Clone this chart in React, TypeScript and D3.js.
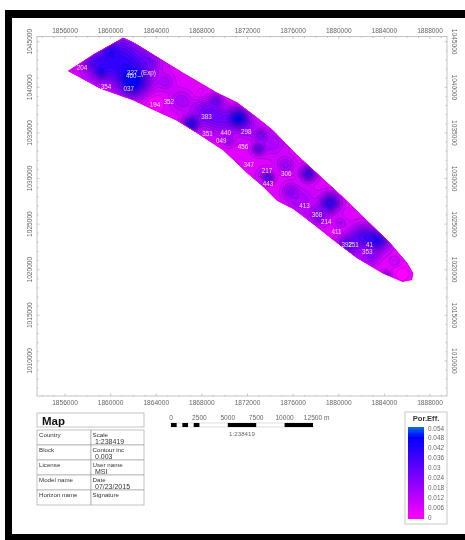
import React, { useEffect } from "react";
import * as d3 from "d3";

const xTicks = [1856000, 1860000, 1864000, 1868000, 1872000, 1876000, 1880000, 1884000, 1888000];
const yTicks = [1045000, 1040000, 1035000, 1030000, 1025000, 1020000, 1015000, 1010000];
const legendTicks = [0.054, 0.048, 0.042, 0.036, 0.03, 0.024, 0.018, 0.012, 0.006, 0];
const scaleBarMetres = [0, 2500, 5000, 7500, 10000, 12500];
const scaleBarBlack: [number, number][] = [[0, 500], [1000, 1500], [2000, 2500], [5000, 7500], [10000, 12500]];

// Reservoir outline in map coordinates
const outline: [number, number][] = [
  [1856300, 1041800], [1858600, 1043650], [1861100, 1045400], [1862000, 1044900], [1866300, 1041600],
  [1869300, 1039400], [1871100, 1038300], [1873100, 1036400], [1874200, 1035300], [1876300, 1032600],
  [1878400, 1030200], [1880400, 1027900], [1882700, 1025100], [1884500, 1022900], [1886000, 1020700],
  [1886500, 1019600], [1886400, 1018900], [1885600, 1018700], [1883900, 1019600], [1881600, 1021300],
  [1879500, 1023300], [1877700, 1025100], [1876000, 1026700], [1874600, 1027600], [1873400, 1029100],
  [1872000, 1030600], [1869900, 1033100], [1867600, 1035000], [1865800, 1036400], [1863500, 1037700],
  [1862000, 1038600], [1859100, 1039900],
];

const highs: [number, number, number, number][] = [
  [1861900, 1040500, 850, 0.03], [1860800, 1043500, 1500, 0.024], [1859100, 1042400, 1100, 0.016],
  [1862200, 1041700, 1300, 0.014], [1867000, 1036000, 450, 0.032], [1868300, 1037300, 900, 0.018],
  [1871200, 1036700, 550, 0.036], [1869800, 1036400, 900, 0.016], [1872900, 1033300, 350, 0.02],
  [1874100, 1034000, 800, 0.01], [1877300, 1030600, 450, 0.03], [1879200, 1027400, 550, 0.034],
  [1878200, 1026000, 550, 0.016], [1876600, 1027600, 800, 0.01], [1880700, 1022700, 600, 0.024],
  [1883400, 1023300, 650, 0.032], [1882000, 1023700, 700, 0.024], [1884100, 1019400, 300, 0.016],
  [1873800, 1030100, 300, 0.018], [1881900, 1020800, 700, 0.01], [1872000, 1035500, 700, 0.01],
  [1859900, 1044100, 450, 0.008], [1859100, 1041700, 350, 0.012], [1858400, 1042800, 450, 0.008],
  [1863500, 1043000, 550, 0.008], [1864800, 1040600, 450, 0.008], [1866100, 1038600, 600, 0.01],
  [1869200, 1038600, 350, 0.014], [1870300, 1034200, 350, 0.01], [1873100, 1034800, 350, 0.014],
  [1875300, 1031500, 500, 0.012], [1873500, 1030400, 450, 0.01], [1875700, 1028700, 450, 0.012],
  [1880100, 1025200, 350, 0.008], [1882900, 1021600, 450, 0.01], [1884900, 1020900, 350, 0.006],
  [1863700, 1038400, 700, -0.006], [1885500, 1019600, 800, -0.006], [1867900, 1039300, 500, -0.004],
];
const baseValue = 0.0075;

const wellNames = ["204", "327_(Exp)", "460", "354", "037", "194", "352", "383", "351", "440", "298", "049", "456", "347", "217", "306", "443", "413", "368", "214", "411", "392", "251", "41", "353"];
const wellX = [1857500, 1862700, 1861800, 1859600, 1861600, 1863900, 1865100, 1868400, 1868500, 1870100, 1871900, 1869700, 1871600, 1872100, 1873700, 1875400, 1873800, 1877000, 1878100, 1878900, 1879800, 1880700, 1881300, 1882700, 1882500];
const wellY = [1042200, 1041600, 1041300, 1040100, 1039900, 1038100, 1038400, 1036800, 1034900, 1035000, 1035100, 1034200, 1033500, 1031500, 1030900, 1030600, 1029400, 1027000, 1026000, 1025300, 1024200, 1022800, 1022800, 1022800, 1022000];

const tableLeft = ["Country", "Block", "License", "Model name", "Horizon name"];
const tableRight = ["Scale", "Contour inc", "User name", "Date", "Signature"];
const tableValues = ["1:238419", "0.003", "MSI", "07/23/2015", ""];

const F = "'Liberation Sans', Arial, sans-serif";
const GREY = "#666";

const x = d3.scaleLinear().domain([1853545, 1889490]).range([37, 447]);
const y = d3.scaleLinear().domain([1045570, 1006150]).range([36.5, 396]);
const color = d3.scaleLinear<string>().domain([0, 0.048, 0.054]).range(["#ff00ff", "#0000ff", "#0070e8"]);
const legendY = d3.scaleLinear().domain([0, 0.054]).range([517, 428]);
const barX = d3.scaleLinear().domain([0, 12500]).range([171, 313]);

const W = 410;
const H = 360;
const values = new Array(W * H);
for (let j = 0; j < H; j++) {
  for (let i = 0; i < W; i++) {
    const gx = x.invert(37 + i);
    const gy = y.invert(36.5 + j);
    let v = baseValue;
    for (const [hx, hy, r, val] of highs) {
      v += val * Math.exp(-((gx - hx) ** 2 + ((gy - hy) * 0.83) ** 2) / (2 * r * r));
    }
    values[j * W + i] = Math.max(0, Math.min(v, 0.05));
  }
}
const thresholds = d3.range(0, 0.054, 0.003);
const bands = d3.contours().size([W, H]).thresholds(thresholds)(values);
const bandPath = d3.geoPath();
const outlinePath = d3.line().curve(d3.curveLinearClosed)(outline.map(([a, b]) => [x(a), y(b)]))!;

export default function App() {
  useEffect(() => {
    document.body.style.margin = "0";
    document.body.style.background = "#fff";
  }, []);
  return (
    <svg width={465} height={540} viewBox="0 0 465 540" style={{ display: "block" }} fontFamily={F}>
      <defs>
        <filter id="soft" x="0" y="0" width="100%" height="100%" filterUnits="userSpaceOnUse" primitiveUnits="userSpaceOnUse">
          <feGaussianBlur stdDeviation="0.45" />
        </filter>
        <clipPath id="body"><path d={outlinePath} /></clipPath>
        <linearGradient id="lg" x1="0" y1="1" x2="0" y2="0">
          {[0, 0.048, 0.054].map((v) => (
            <stop key={v} offset={v / 0.054} stopColor={color(v)} />
          ))}
        </linearGradient>
      </defs>
      <rect x={0} y={0} width={465} height={540} fill="#fff" />
      <path d="M5 10H465V18H12V534H465V540H5Z" fill="#000" />
      <g filter="url(#soft)">
        {/* frame */}
        <rect x={37} y={36.5} width={410} height={359.5} fill="none" stroke="#aaa" strokeWidth={0.7} />
        {d3.range(1854000, 1889001, 1000).map((t) => (
          <g key={t} stroke="#999" strokeWidth={0.5}>
            <line x1={x(t)} x2={x(t)} y1={36.5} y2={t % 4000 === 0 ? 39 : 38} />
            <line x1={x(t)} x2={x(t)} y1={396} y2={t % 4000 === 0 ? 393.5 : 395} />
          </g>
        ))}
        {d3.range(1007000, 1045001, 1000).map((t) => (
          <g key={t} stroke="#999" strokeWidth={0.5}>
            <line y1={y(t)} y2={y(t)} x1={37} x2={t % 5000 === 0 ? 39.5 : 38.5} />
            <line y1={y(t)} y2={y(t)} x1={447} x2={t % 5000 === 0 ? 444.5 : 445.5} />
          </g>
        ))}
        {xTicks.map((t) => (
          <g key={t} fontSize={6.6} fill={GREY} textAnchor="middle">
            <text x={x(t)} y={33}>{t}</text>
            <text x={x(t)} y={405}>{t}</text>
          </g>
        ))}
        {yTicks.map((t) => (
          <g key={t} fontSize={6.6} fill={GREY} textAnchor="middle">
            <text transform={`translate(31.5 ${y(t)}) rotate(-90)`}>{t}</text>
            <text transform={`translate(451.5 ${y(t)}) rotate(90)`}>{t}</text>
          </g>
        ))}

        {/* map */}
        <g clipPath="url(#body)">
          <g transform="translate(37 36.5)">
            <rect width={W} height={H} fill={color(0.003)} />
            {bands.map((b, i) => (
              <path key={i} d={bandPath(b) ?? ""} fill={color(b.value)} stroke="#20004e" strokeOpacity={0.6} strokeWidth={0.4} />
            ))}
          </g>
        </g>
        <path d={outlinePath} fill="none" stroke="#e000f0" strokeWidth={0.8} />
        {wellNames.map((n, i) => (
          <text key={n + i} x={x(wellX[i])} y={y(wellY[i])} fontSize={6.3} fill="#fff" fillOpacity={0.85} textAnchor="middle" dominantBaseline="central">{n}</text>
        ))}

        {/* title block */}
        <rect x={37} y={413} width={107} height={14} fill="#fff" stroke="#999" strokeWidth={0.6} />
        <text x={42} y={425} fontSize={11.5} fontWeight="bold" fill="#111">Map</text>
        {tableLeft.map((t, i) => {
          const top = 430 + i * 15;
          return (
            <g key={t}>
              <rect x={37} y={top} width={54} height={15} fill="#fff" stroke="#999" strokeWidth={0.6} />
              <rect x={91} y={top} width={53} height={15} fill="#fff" stroke="#999" strokeWidth={0.6} />
              <text x={39} y={top + 6.5} fontSize={6.2} fill="#333">{t}</text>
              <text x={92.5} y={top + 6.5} fontSize={6.2} fill="#333">{tableRight[i]}</text>
              <text x={95} y={top + 14} fontSize={7} fill="#333">{tableValues[i]}</text>
            </g>
          );
        })}

        {/* scale bar */}
        {scaleBarMetres.map((m) => (
          <text key={m} x={barX(m)} y={419.5} fontSize={6.6} fill={GREY} textAnchor="middle">{m}</text>
        ))}
        <text x={barX(12500) + 11} y={419.5} fontSize={6.6} fill={GREY}>m</text>
        <rect x={barX(0)} y={423} width={barX(12500) - barX(0)} height={4} fill="#fff" stroke="#aaa" strokeWidth={0.4} />
        {scaleBarBlack.map(([a, b]) => (
          <rect key={a} x={barX(a)} y={423} width={barX(b) - barX(a)} height={4} fill="#000" />
        ))}
        <text x={242} y={435.5} fontSize={6.2} fill={GREY} textAnchor="middle">1:238419</text>

        {/* legend */}
        <rect x={405} y={412} width={42} height={112} fill="#fff" stroke="#bbb" strokeWidth={0.8} />
        <text x={426} y={421} fontSize={7.6} fontWeight="bold" fill="#333" textAnchor="middle">Por.Eff.</text>
        <rect x={408} y={427} width={16} height={92} fill="url(#lg)" />
        {legendTicks.map((v) => (
          <text key={v} x={428} y={legendY(v)} fontSize={6.4} fill={GREY} dominantBaseline="central">{v}</text>
        ))}
      </g>
    </svg>
  );
}
